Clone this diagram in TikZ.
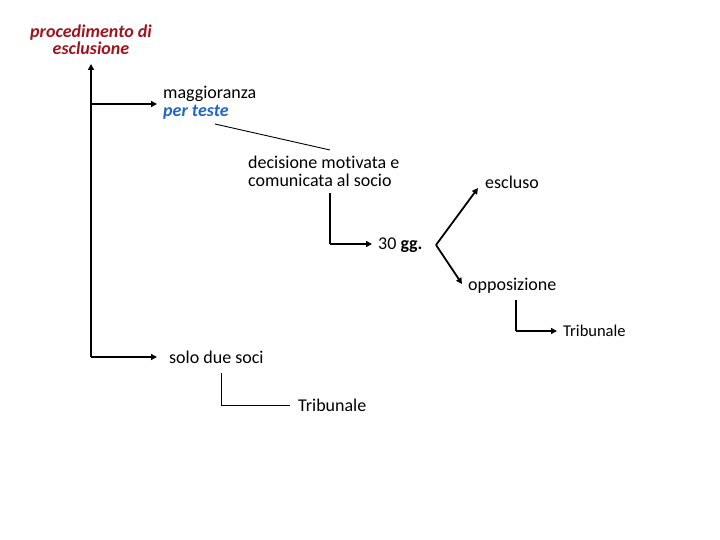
\documentclass[tikz,border=0pt]{standalone}
\usepackage{fontspec}
\setmainfont{Carlito}[Ligatures=NoCommon]
\usetikzlibrary{arrows.meta}
\definecolor{titlered}{HTML}{A0141E}
\definecolor{teste}{HTML}{1F66C8}
\begin{document}
\begin{tikzpicture}[x=1pt,y=-1pt,
  lbl/.style={anchor=west,inner sep=0pt,font=\fontsize{18}{18}\selectfont,align=left},
  small/.style={anchor=west,inner sep=0pt,font=\fontsize{16.5}{18}\selectfont},
  thickarr/.style={line width=1.8pt,-{Triangle[length=6pt,width=6pt]}},
  thickln/.style={line width=1.8pt},
  thinln/.style={line width=0.9pt}]
\useasboundingbox (0,0) rectangle (720,540);
\node[inner sep=0pt,align=center,text=titlered,font=\fontsize{18}{17}\selectfont\bfseries\itshape] (title) at (91,40) {procedimento di\\esclusione};
\node[lbl] (magg) at (163,103) {maggioranza\\\textcolor{teste}{\bfseries\itshape per teste}};
\node[lbl] (dec) at (248,171) {decisione motivata e\\comunicata al socio};
\node[lbl] (gg) at (378,245) {30 \textbf{gg.}};
\node[lbl] (escl) at (485,182) {escluso};
\node[lbl] (opp) at (468,286) {opposizione};
\node[small] (trib1) at (563,331) {Tribunale};
\node[lbl] (solo) at (169,357) {solo due soci};
\node[lbl] (trib2) at (298,405) {Tribunale};
\coordinate (top) at (91,64);
\coordinate (bot) at (91,357);
\coordinate (mid) at (91,104);
\coordinate (fork) at (436,245);
\coordinate (dcorner) at (330,244);
\coordinate (ocorner) at (516,331);
\coordinate (scorner) at (221,405);
% main axis
\draw[thickarr] (bot) -- (top);
\draw[thickarr] (mid) -- (157,104);
\draw[thickarr] (bot) -- (157,357);
% link magg - dec
\draw[thinln] (215,124) -- (330,150);
% decision to 30 gg
\draw[thickln] (330,193) -- (dcorner);
\draw[thickarr] (dcorner) -- (372,244);
% fork
\draw[thickarr] (fork) -- (478,188);
\draw[thickarr] (fork) -- (462,284);
% opposizione to tribunale
\draw[thickln] (516,300) -- (ocorner);
\draw[thickarr] (ocorner) -- (557,331);
% solo due soci to tribunale
\draw[thinln] (221,373) -- (scorner) -- (290,405);
\end{tikzpicture}
\end{document}
